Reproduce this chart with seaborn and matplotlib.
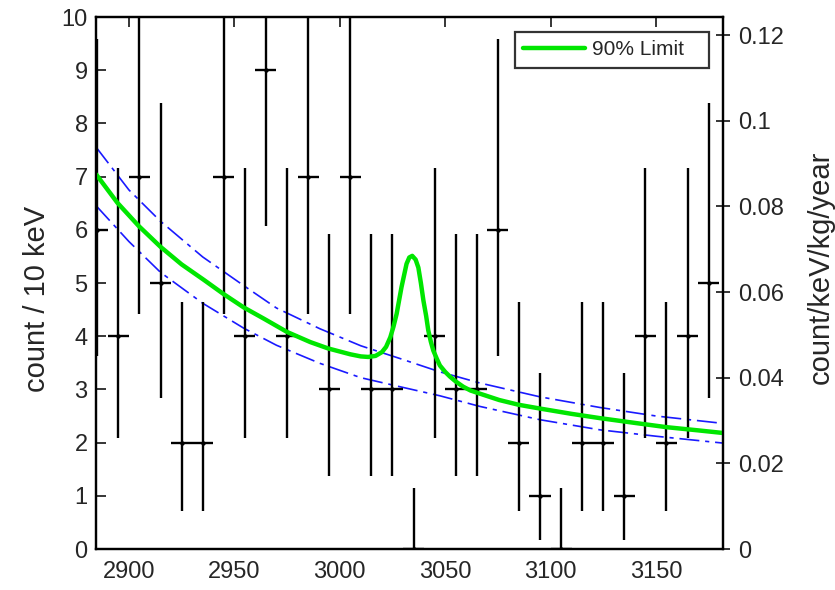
import numpy as np
import matplotlib
matplotlib.use('Agg')
import matplotlib.pyplot as plt
from matplotlib.lines import Line2D
import seaborn as sns

# measured spectrum: bin centre (keV) and counts per 10 keV bin
energy = [2885, 2895, 2905, 2915, 2925, 2935, 2945, 2955, 2965, 2975,
          2985, 2995, 3005, 3015, 3025, 3035, 3045, 3055, 3065, 3075,
          3085, 3095, 3105, 3115, 3125, 3135, 3145, 3155, 3165, 3175]
counts = [6, 4, 7, 5, 2, 2, 7, 4, 9, 4,
          7, 3, 7, 3, 3, 0, 4, 3, 3, 6,
          2, 1, 0, 2, 2, 1, 4, 2, 4, 5]
# ends of the vertical error bars
bar_lo = [3.62, 2.09, 4.42, 2.84, 0.71, 0.71, 4.42, 2.09, 6.07, 2.09,
          4.42, 1.37, 4.42, 1.37, 1.37, 0.0, 2.09, 1.37, 1.37, 3.62,
          0.71, 0.17, 0.0, 0.71, 0.71, 0.17, 2.09, 0.71, 2.09, 2.84]
bar_hi = [9.58, 7.16, 10.77, 8.38, 4.64, 4.64, 10.77, 7.16, 13.1, 7.16,
          10.77, 5.92, 10.77, 5.92, 5.92, 1.15, 7.16, 5.92, 5.92, 9.58,
          4.64, 3.30, 1.15, 4.64, 4.64, 3.30, 7.16, 4.64, 7.16, 8.38]
bin_half = 5

# 90% limit curve (background + peak)
limit_e = [2884.5, 2894.5, 2904.7, 2915, 2925, 2935.5, 2945, 2954.5, 2964, 2975,
           2986, 2994.5, 3005, 3010, 3013.5, 3017, 3020, 3022, 3024, 3025.5,
           3027, 3029.3, 3031.7, 3033, 3034.4, 3036, 3037.3, 3038.5, 3039.7, 3041,
           3042, 3043.2, 3044.4, 3046, 3047.5, 3050, 3052.3, 3055, 3058.6, 3062,
           3066.5, 3075.7, 3085, 3095, 3110, 3123.4, 3140, 3155, 3170, 3182]
limit_v = [7.04, 6.51, 6.07, 5.68, 5.35, 5.06, 4.79, 4.54, 4.33, 4.08,
           3.89, 3.77, 3.66, 3.62, 3.61, 3.63, 3.70, 3.80, 3.98, 4.18,
           4.42, 4.92, 5.36, 5.48, 5.51, 5.44, 5.29, 5.00, 4.67, 4.38,
           4.11, 3.90, 3.73, 3.58, 3.45, 3.33, 3.24, 3.15, 3.05, 2.98,
           2.92, 2.80, 2.71, 2.64, 2.54, 2.46, 2.37, 2.29, 2.23, 2.18]

# background uncertainty band
band_e = [2884.5, 2900, 2915, 2935, 2954.5, 2970, 2990.6, 3010, 3028.6, 3047.5,
          3066.5, 3095, 3123.4, 3150, 3182]
band_hi = [7.55, 6.75, 6.16, 5.49, 4.95, 4.53, 4.14, 3.82, 3.58, 3.33,
           3.12, 2.86, 2.66, 2.50, 2.36]
band_lo = [6.45, 5.78, 5.20, 4.62, 4.15, 3.83, 3.49, 3.22, 3.05, 2.88,
           2.68, 2.43, 2.24, 2.12, 1.99]

# 10 count/10keV corresponds to this on the right axis
right_top = 0.12425

sns.set_style('white')
plt.rcParams['font.family'] = ['Liberation Sans', 'DejaVu Sans']

fig = plt.figure(figsize=(8.35, 5.9), dpi=100)
ax = fig.add_axes([96/835, 41/590, 627/835, 532/590])

green = '#00e600'

# blue dash-dot band
for band in (band_hi, band_lo):
    sns.lineplot(x=band_e, y=band, ax=ax, color='#1a1aff', linewidth=1.2,
                 linestyle=(0, (12, 3.5, 2.5, 3.5)), zorder=2)

# data points with error bars
cnt = np.array(counts, dtype=float)
yerr = [cnt - np.array(bar_lo), np.array(bar_hi) - cnt]
ax.errorbar(energy, counts, yerr=yerr, xerr=bin_half, fmt='none',
            ecolor='black', elinewidth=1.7, capsize=0, zorder=3)
sns.scatterplot(x=energy, y=counts, ax=ax, color='black', s=10,
                marker='o', linewidth=0, zorder=4)

# 90% limit
sns.lineplot(x=limit_e, y=limit_v, ax=ax, color=green, linewidth=3.2, zorder=5)

ax.set_xlim(2884.4, 3181.8)
ax.set_ylim(0, 10)
ax.set_xticks([2900, 2950, 3000, 3050, 3100, 3150])
ax.set_yticks(range(0, 11))
ax.tick_params(axis='x', direction='in', top=True, length=7, width=1.3,
               labelsize=17, pad=9)
ax.tick_params(axis='y', direction='in', left=True, right=False, length=7,
               width=1.3, labelsize=17, pad=6)
for sp in ax.spines.values():
    sp.set_linewidth(1.6)
    sp.set_color('black')
ax.set_ylabel('count / 10 keV', fontsize=21)
ax.yaxis.set_label_coords(-0.072, 0.47)

ax2 = ax.twinx()
ax2.set_ylim(0, right_top)
ax2.set_yticks([0, 0.02, 0.04, 0.06, 0.08, 0.1, 0.12])
ax2.set_yticklabels(['0', '0.02', '0.04', '0.06', '0.08', '0.1', '0.12'])
ax2.tick_params(axis='y', direction='inout', length=10, width=1.3,
                labelsize=17, pad=6)
ax2.set_ylabel('count/keV/kg/year', fontsize=21)
ax2.yaxis.set_label_coords(1.133, 0.53)
for sp in ax2.spines.values():
    sp.set_linewidth(1.6)
    sp.set_color('black')

handle = Line2D([], [], color=green, linewidth=3.2)
leg = ax.legend([handle], ['90% Limit   '], loc='upper right',
                bbox_to_anchor=(0.978, 0.972), borderaxespad=0,
                fontsize=15, frameon=True, fancybox=False, framealpha=1,
                edgecolor='#333333', handlelength=3.0, handletextpad=0.3,
                borderpad=0.4)
leg.get_frame().set_linewidth(1.6)

fig.savefig('out.png', dpi=100)
